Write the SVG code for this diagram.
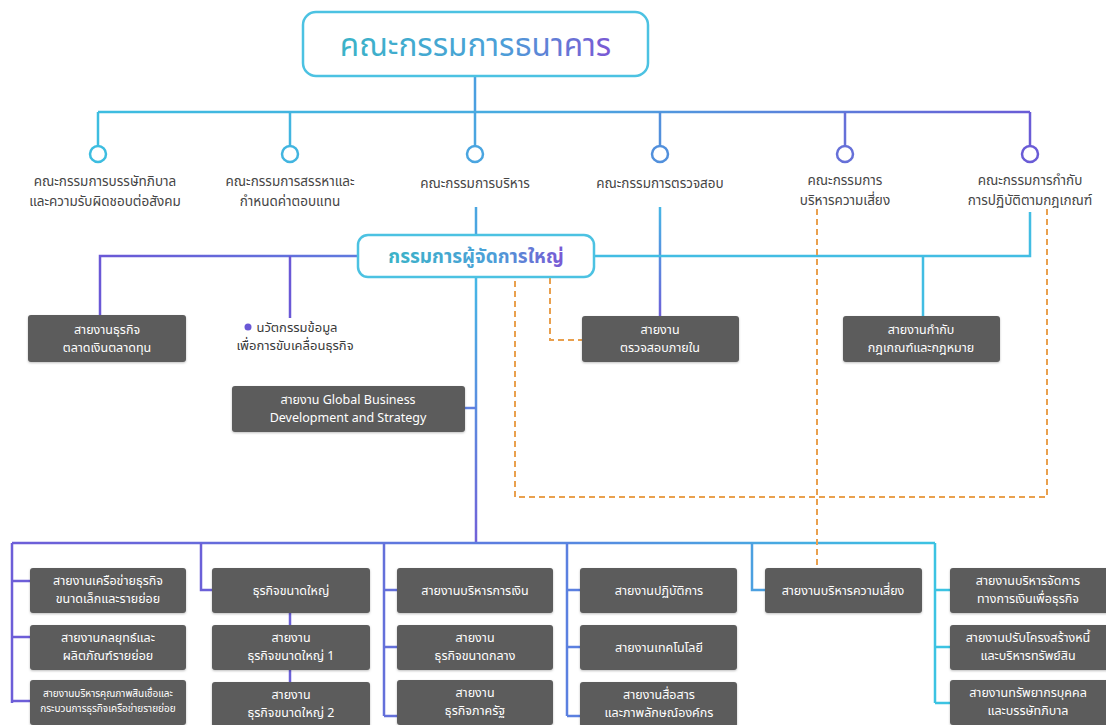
<svg xmlns="http://www.w3.org/2000/svg" width="1106" height="725" viewBox="0 0 1106 725">
<defs>
<linearGradient id="gTop" gradientUnits="userSpaceOnUse" x1="98" y1="0" x2="1030" y2="0">
<stop offset="0" stop-color="#3dbde0"/><stop offset="0.5" stop-color="#4aa8e0"/><stop offset="1" stop-color="#6a5cd6"/>
</linearGradient>
<linearGradient id="gBus" gradientUnits="userSpaceOnUse" x1="12" y1="0" x2="935" y2="0">
<stop offset="0" stop-color="#6d5ed8"/><stop offset="0.55" stop-color="#5b7fe0"/><stop offset="1" stop-color="#3cc3e2"/>
</linearGradient>
<linearGradient id="gLeft" gradientUnits="userSpaceOnUse" x1="100" y1="0" x2="358" y2="0">
<stop offset="0" stop-color="#6a58d6"/><stop offset="1" stop-color="#5f7ade"/>
</linearGradient>
<linearGradient id="gTrunk" gradientUnits="userSpaceOnUse" x1="0" y1="277" x2="0" y2="543">
<stop offset="0" stop-color="#45b8e6"/><stop offset="1" stop-color="#7260d8"/>
</linearGradient>
<linearGradient id="gAudit" gradientUnits="userSpaceOnUse" x1="0" y1="205" x2="0" y2="316">
<stop offset="0" stop-color="#45b8e6"/><stop offset="1" stop-color="#6e60d8"/>
</linearGradient>
<linearGradient id="gText" x1="0" y1="0" x2="1" y2="0">
<stop offset="0" stop-color="#3bb3c8"/><stop offset="0.6" stop-color="#4c9fd8"/><stop offset="1" stop-color="#7a58d4"/>
</linearGradient>
<filter id="sh" x="-5%" y="-10%" width="110%" height="125%">
<feDropShadow dx="0" dy="1" stdDeviation="1" flood-color="#000" flood-opacity="0.25"/>
</filter>
</defs>
<style>
text{font-family:"Noto Sans Thai","Noto Sans","DejaVu Sans",sans-serif;}
.lbl{font-size:13.5px;fill:#454545;text-anchor:middle;}
.box{fill:#5b5b5b;filter:url(#sh);}
.bt{font-size:12.5px;fill:#ffffff;text-anchor:middle;}
.bts{font-size:10px;fill:#ffffff;text-anchor:middle;}
.ln{fill:none;stroke-width:2.5;}
.dash{fill:none;stroke:#e9a04e;stroke-width:2;stroke-dasharray:6 4;}
.circ{fill:#fff;stroke-width:2.5;}
.head{fill:#fff;stroke:#4cc2e2;stroke-width:2.5;}
</style>
<rect width="1106" height="725" fill="#ffffff"/>

<g id="connectors">
<path class="ln" stroke="#4a9fe0" d="M475 76 V112"/>
<path class="ln" stroke="url(#gTop)" d="M98 112 H1030"/>
<path class="ln" stroke="#3dbde0" d="M98 112 V145"/>
<path class="ln" stroke="#42b5e0" d="M290 112 V145"/>
<path class="ln" stroke="#4aa5e0" d="M475 112 V145"/>
<path class="ln" stroke="#5290dc" d="M660 112 V145"/>
<path class="ln" stroke="#6670d8" d="M845 112 V145"/>
<path class="ln" stroke="#6a5cd6" d="M1030 112 V145"/>
<path class="ln" stroke="#4aa5e0" d="M476 207 V235"/>
<path class="ln" stroke="url(#gAudit)" d="M660 207 V316"/>
<path class="ln" stroke="#42bde3" d="M594 256 H1030 V212"/>
<path class="ln" stroke="#42bde3" d="M923 256 V316"/>
<path class="ln" stroke="url(#gLeft)" d="M358 256 H100 V316"/>
<path class="ln" stroke="#6a58d6" d="M290 256 V318"/>
<path class="ln" stroke="url(#gTrunk)" d="M476 277 V543"/>
<path class="ln" stroke="#5f80e0" d="M465 408 H476"/>
<path class="ln" stroke="url(#gBus)" d="M12 543 H935"/>
<path class="ln" stroke="#6d5ed8" d="M12 543 V703 M12 581 H30 M12 637 H30 M12 701 H30"/>
<path class="ln" stroke="#6b60d8" d="M201 543 V590 H212"/>
<path class="ln" stroke="#6b60d8" d="M290 613 V625 M290 670 V682"/>
<path class="ln" stroke="#6470da" d="M384 543 V716 M384 590 H397 M384 647 H397 M384 716 H397"/>
<path class="ln" stroke="#5b80e0" d="M567 543 V716 M567 590 H580 M567 647 H580 M567 716 H580"/>
<path class="ln" stroke="#4ca0e0" d="M752 543 V590 H765"/>
<path class="ln" stroke="#3cc3e2" d="M935 543 V703 M935 590 H950 M935 647 H950 M935 703 H950"/>
<path class="dash" d="M817 209 V568"/>
<path class="dash" d="M1047 209 V497 H515 V278"/>
<path class="dash" d="M550 278 V340 H582"/>
</g>

<g id="board">
<rect class="head" x="303" y="12" width="345" height="64" rx="13"/>
<text x="475.5" y="56" font-size="31.5" fill="url(#gText)" text-anchor="middle">คณะกรรมการธนาคาร</text>
</g>

<g id="c1"><circle class="circ" stroke="#3dbde0" cx="98" cy="154" r="8"/>
<text class="lbl" x="105" y="186">คณะกรรมการบรรษัทภิบาล</text><text class="lbl" x="105" y="206">และความรับผิดชอบต่อสังคม</text></g>
<g id="c2"><circle class="circ" stroke="#42b5e0" cx="290" cy="154" r="8"/>
<text class="lbl" x="290" y="186">คณะกรรมการสรรหาและ</text><text class="lbl" x="290" y="206">กำหนดค่าตอบแทน</text></g>
<g id="c3"><circle class="circ" stroke="#4aa5e0" cx="475" cy="154" r="8"/>
<text class="lbl" x="475" y="188">คณะกรรมการบริหาร</text></g>
<g id="c4"><circle class="circ" stroke="#5290dc" cx="660" cy="154" r="8"/>
<text class="lbl" x="660" y="188">คณะกรรมการตรวจสอบ</text></g>
<g id="c5"><circle class="circ" stroke="#6670d8" cx="845" cy="154" r="8"/>
<text class="lbl" x="845" y="185">คณะกรรมการ</text><text class="lbl" x="845" y="205">บริหารความเสี่ยง</text></g>
<g id="c6"><circle class="circ" stroke="#6a5cd6" cx="1030" cy="154" r="8"/>
<text class="lbl" x="1030" y="185">คณะกรรมการกำกับ</text><text class="lbl" x="1030" y="205">การปฏิบัติตามกฎเกณฑ์</text></g>

<g id="president">
<rect class="head" x="358" y="235" width="236" height="42" rx="10"/>
<text x="476" y="263" font-size="19" font-weight="bold" fill="url(#gText)" text-anchor="middle">กรรมการผู้จัดการใหญ่</text>
</g>

<g id="money"><rect class="box" x="28" y="315" width="158" height="47" rx="3"/>
<text class="bt" x="107" y="334">สายงานธุรกิจ</text><text class="bt" x="107" y="352">ตลาดเงินตลาดทุน</text></g>
<g id="innov"><circle cx="248" cy="327" r="3.5" fill="#6a58d6"/>
<text x="297" y="332" font-size="13" fill="#3a3a3a" text-anchor="middle">นวัตกรรมข้อมูล</text>
<text x="295" y="350" font-size="13" fill="#3a3a3a" text-anchor="middle">เพื่อการขับเคลื่อนธุรกิจ</text></g>
<g id="audit"><rect class="box" x="582" y="316" width="157" height="46" rx="3"/>
<text class="bt" x="660" y="334">สายงาน</text><text class="bt" x="660" y="352">ตรวจสอบภายใน</text></g>
<g id="compliance"><rect class="box" x="843" y="316" width="157" height="46" rx="3"/>
<text class="bt" x="921" y="334">สายงานกำกับ</text><text class="bt" x="921" y="352">กฎเกณฑ์และกฎหมาย</text></g>
<g id="global"><rect class="box" x="232" y="386" width="233" height="46" rx="3"/>
<text class="bt" x="348" y="404">สายงาน Global Business</text><text class="bt" x="348" y="422">Development and Strategy</text></g>

<g id="b11"><rect class="box" x="30" y="568" width="156" height="45" rx="3"/>
<text class="bt" x="108" y="585">สายงานเครือข่ายธุรกิจ</text><text class="bt" x="108" y="603">ขนาดเล็กและรายย่อย</text></g>
<g id="b12"><rect class="box" x="30" y="625" width="156" height="45" rx="3"/>
<text class="bt" x="108" y="642">สายงานกลยุทธ์และ</text><text class="bt" x="108" y="660">ผลิตภัณฑ์รายย่อย</text></g>
<g id="b13"><rect class="box" x="30" y="680" width="156" height="45" rx="3"/>
<text class="bts" x="108" y="697">สายงานบริหารคุณภาพสินเชื่อและ</text><text class="bts" x="108" y="712">กระบวนการธุรกิจเครือข่ายรายย่อย</text></g>

<g id="b21"><rect class="box" x="212" y="568" width="158" height="45" rx="3"/>
<text class="bt" x="291" y="595">ธุรกิจขนาดใหญ่</text></g>
<g id="b22"><rect class="box" x="212" y="625" width="158" height="45" rx="3"/>
<text class="bt" x="291" y="642">สายงาน</text><text class="bt" x="291" y="660">ธุรกิจขนาดใหญ่ 1</text></g>
<g id="b23"><rect class="box" x="212" y="682" width="158" height="45" rx="3"/>
<text class="bt" x="291" y="699">สายงาน</text><text class="bt" x="291" y="717">ธุรกิจขนาดใหญ่ 2</text></g>

<g id="b31"><rect class="box" x="397" y="568" width="156" height="45" rx="3"/>
<text class="bt" x="475" y="595">สายงานบริหารการเงิน</text></g>
<g id="b32"><rect class="box" x="397" y="625" width="156" height="45" rx="3"/>
<text class="bt" x="475" y="642">สายงาน</text><text class="bt" x="475" y="660">ธุรกิจขนาดกลาง</text></g>
<g id="b33"><rect class="box" x="397" y="680" width="156" height="45" rx="3"/>
<text class="bt" x="475" y="697">สายงาน</text><text class="bt" x="475" y="715">ธุรกิจภาครัฐ</text></g>

<g id="b41"><rect class="box" x="580" y="568" width="157" height="45" rx="3"/>
<text class="bt" x="659" y="595">สายงานปฏิบัติการ</text></g>
<g id="b42"><rect class="box" x="580" y="625" width="157" height="45" rx="3"/>
<text class="bt" x="659" y="652">สายงานเทคโนโลยี</text></g>
<g id="b43"><rect class="box" x="580" y="682" width="157" height="45" rx="3"/>
<text class="bt" x="659" y="699">สายงานสื่อสาร</text><text class="bt" x="659" y="717">และภาพลักษณ์องค์กร</text></g>

<g id="b51"><rect class="box" x="765" y="568" width="157" height="45" rx="3"/>
<text class="bt" x="843" y="595">สายงานบริหารความเสี่ยง</text></g>

<g id="b61"><rect class="box" x="950" y="568" width="160" height="45" rx="3"/>
<text class="bt" x="1028" y="585">สายงานบริหารจัดการ</text><text class="bt" x="1028" y="603">ทางการเงินเพื่อธุรกิจ</text></g>
<g id="b62"><rect class="box" x="950" y="625" width="160" height="45" rx="3"/>
<text class="bt" x="1028" y="642">สายงานปรับโครงสร้างหนี้</text><text class="bt" x="1028" y="660">และบริหารทรัพย์สิน</text></g>
<g id="b63"><rect class="box" x="950" y="680" width="160" height="45" rx="3"/>
<text class="bt" x="1028" y="697">สายงานทรัพยากรบุคคล</text><text class="bt" x="1028" y="715">และบรรษัทภิบาล</text></g>
</svg>
